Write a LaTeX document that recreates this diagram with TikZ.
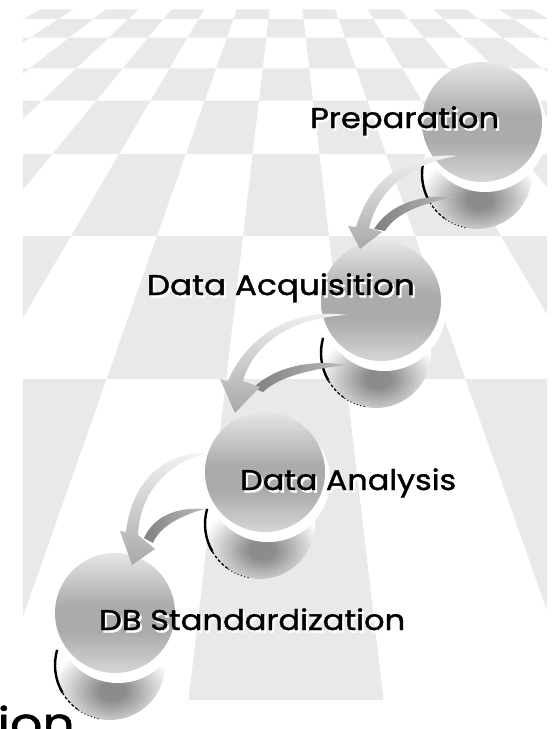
\documentclass[tikz,border=0pt]{standalone}
\usepackage{fontspec}
\setmainfont{Poppins}
\newfontfamily\lblfont{Poppins}[FakeBold=1.2]
\usepackage{graphicx}
\definecolor{chk}{RGB}{233,233,233}
\definecolor{balltop}{gray}{0.90}
\definecolor{ballmid}{gray}{0.67}
\definecolor{ballbot}{gray}{0.84}
\definecolor{shdark}{gray}{0.55}
\definecolor{arl1}{gray}{0.95}
\definecolor{arl2}{gray}{0.66}
\definecolor{ard1}{gray}{0.50}
\definecolor{ard2}{gray}{0.74}
\pgfdeclareverticalshading{ballsh}{100bp}{color(0bp)=(ballbot); color(25bp)=(ballbot); color(42bp)=(ballmid); color(53bp)=(ballmid); color(75bp)=(balltop); color(100bp)=(balltop)}
\pgfdeclareradialshading{shadsh}{\pgfpoint{0bp}{0bp}}{color(0bp)=(shdark); color(5bp)=(shdark); color(25bp)=(white); color(50bp)=(white)}
\newcommand\drawball[3]{%
  \fill[white] ({#2-5},{#3+52}) circle (55);
  \begin{scope}
    \clip ({#2-5},{#3+52}) circle (55);
    \path[shading=shadsh] ({#2-3},{#3+78}) ellipse (62 and 46);
  \end{scope}
  \draw[line width=2.4pt] ([shift={(196:55)}]{#2-5},{#3+52}) arc[start angle=196,end angle=150,radius=55];
  \draw[line width=1.3pt,dash pattern=on 3pt off 2pt] ([shift={(150:55)}]{#2-5},{#3+52}) arc[start angle=150,end angle=125,radius=55];
  \draw[line width=1pt,dash pattern=on 1pt off 2.5pt] ([shift={(125:55)}]{#2-5},{#3+52}) arc[start angle=125,end angle=100,radius=55];
  \fill[white] ({#2+3},{#3+8}) circle (62);
  \node[circle,minimum size=120,inner sep=0,shade,shading=ballsh] (#1) at (#2,#3) {};
}
\tikzset{
  lbl/.style={font=\lblfont\fontsize{28.5}{30}\selectfont, inner sep=0, anchor=base west},
  lightarrow/.style={top color=arl1,bottom color=arl2},
  darkarrow/.style={left color=ard1,right color=ard2}
}
\begin{document}
\begin{tikzpicture}[x=1pt,y=-1pt]
\useasboundingbox (0,0) rectangle (554,729);
\fill[white] (0,0) rectangle (554,729);
% checkerboard floor
\begin{scope}
\clip (23,9.3) rectangle (547,700);
\foreach \r/\ya/\yb in {0/9.3/19,1/19/37.7,2/37.7/68.3,3/68.3/100.7,4/100.7/154,5/154/236,6/236/379,7/379/700}{
  \pgfmathsetmacro\fa{(\ya+130)/366}
  \pgfmathsetmacro\fb{(\yb+130)/366}
  \foreach \k in {-8,...,13}{
    \pgfmathtruncatemacro\cpar{mod(\r+\k+40,2)}
    \ifnum\cpar=1
      \fill[chk] ({286+(86*\k-215)*\fa},\ya) -- ({286+(86*\k-129)*\fa},\ya) -- ({286+(86*\k-129)*\fb},\yb) -- ({286+(86*\k-215)*\fb},\yb) -- cycle;
    \fi
  }
}
\end{scope}
% balls
\drawball{c1}{482}{122}
\drawball{c2}{381}{301}
\drawball{c3}{265}{472}
\drawball{c4}{115}{613}
% arrow 1
\coordinate (a1s) at (458,156);
\coordinate (a1d) at (457,197);
\coordinate (a1t) at (360,249);
\shade[darkarrow] (a1d) .. controls (420,194) and (390,204) .. (374,229) -- (385,231) .. controls (396,213) and (422,203) .. (a1d) -- cycle;
\shade[lightarrow] (a1s) .. controls (410,152) and (372,175) .. (356,227) -- (348,226) -- (a1t) -- (382,232) -- (369,228) .. controls (378,190) and (410,163) .. (a1s) -- cycle;
% arrow 2
\coordinate (a2s) at (347,315);
\coordinate (a2d) at (347,365);
\coordinate (a2t) at (235,413);
\shade[darkarrow] (a2d) .. controls (310,359) and (275,367) .. (253,388) -- (263,392) .. controls (280,376) and (312,369) .. (a2d) -- cycle;
\shade[lightarrow] (a2s) .. controls (300,308) and (250,330) .. (228,381) -- (220,379) -- (a2t) -- (260,387) -- (243,381) .. controls (255,340) and (295,318) .. (a2s) -- cycle;
% arrow 3
\coordinate (a3s) at (207,453);
\coordinate (a3d) at (205,509);
\coordinate (a3t) at (132,565);
\shade[darkarrow] (a3d) .. controls (180,507) and (155,514) .. (144,538) -- (153,543) .. controls (160,526) and (182,515) .. (a3d) -- cycle;
\shade[lightarrow] (a3s) .. controls (165,452) and (132,480) .. (126,532) -- (120,531) -- (a3t) -- (155,549) -- (138,535) .. controls (140,490) and (170,462) .. (a3s) -- cycle;
% labels
\node[lbl,white] (t1s) at (312,130.5) {\resizebox{189pt}{\height}{Preparation}};
\node[lbl] (t1) at (310,128) {\resizebox{189pt}{\height}{Preparation}};
\node[lbl,white] (t2s) at (148.7,297.5) {\resizebox{268pt}{\height}{Data Acquisition}};
\node[lbl] (t2) at (146.7,295) {\resizebox{268pt}{\height}{Data Acquisition}};
\node[lbl,white] (t3s) at (242,492.5) {\resizebox{216pt}{\height}{Data Analysis}};
\node[lbl] (t3) at (240,490) {\resizebox{216pt}{\height}{Data Analysis}};
\node[lbl,white] (t4s) at (101,632.5) {\resizebox{306pt}{\height}{DB Standardization}};
\node[lbl] (t4) at (99,630) {\resizebox{306pt}{\height}{DB Standardization}};
\node[font=\lblfont\fontsize{44}{46}\selectfont, inner sep=0, anchor=base east] (t5) at (75,739) {\scalebox{1.15}[1]{tion}};
\end{tikzpicture}
\end{document}
